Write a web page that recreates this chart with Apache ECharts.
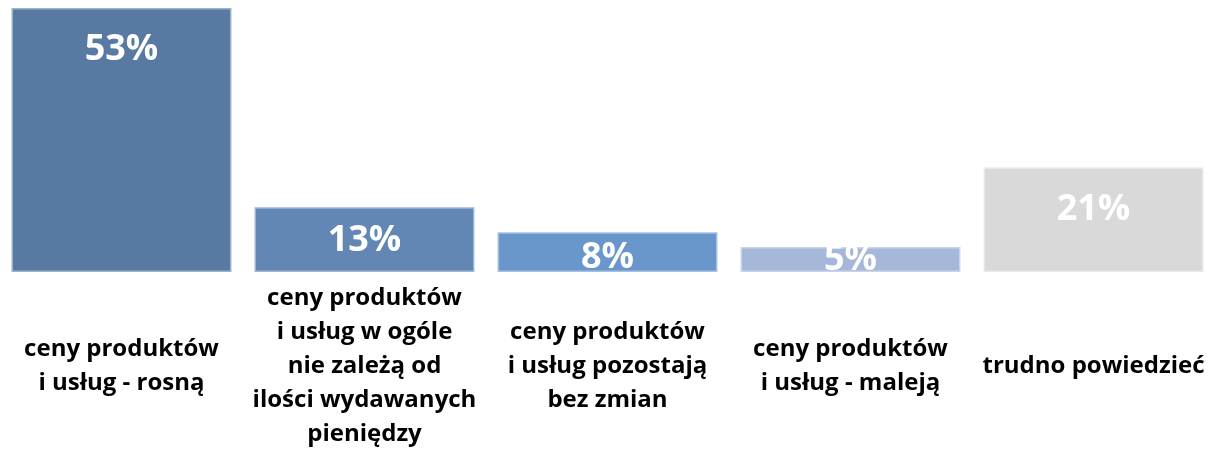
<!DOCTYPE html>
<html>
<head>
<meta charset="utf-8">
<script src="https://cdn.jsdelivr.net/npm/echarts@6/dist/echarts.min.js"></script>
<style>
  html, body { margin: 0; padding: 0; background: #fff; }
  #chart { width: 1221px; height: 452px; }
</style>
</head>
<body>
<div id="chart"></div>
<script>
const categories = [
  'ceny produktów\ni usług - rosną',
  'ceny produktów\ni usług w ogóle\nnie zależą od\nilości wydawanych\npieniędzy',
  'ceny produktów\ni usług pozostają\nbez zmian',
  'ceny produktów\ni usług - maleją',
  'trudno powiedzieć'
];
const values = [53, 13, 8, 5, 21];

// colours and label offsets, one per bar
const barColors = ['#587AA2', '#6287B4', '#6A97CB', '#A5B8D9', '#D9D9D9'];
const borderColors = ['#9BB0CB', '#9FB6D4', '#A6C0E2', '#C9D5EA', '#E8E8E8'];
const labelDistance = [24, 16, 8, -5, 24];

const chart = echarts.init(document.getElementById('chart'));

const seriesData = values.map((v, i) => ({
  value: v,
  itemStyle: {
    color: barColors[i],
    borderColor: borderColors[i],
    borderWidth: 1.5
  },
  label: {
    distance: labelDistance[i]
  }
}));

chart.setOption({
  backgroundColor: '#fff',
  animation: false,
  grid: {
    left: 0,
    right: 6,
    top: 0,
    height: 272
  },
  xAxis: {
    type: 'category',
    data: categories,
    axisLine: { show: false },
    axisTick: { show: false },
    axisLabel: {
      interval: 0,
      margin: 94,
      verticalAlign: 'middle',
      color: '#000',
      fontFamily: 'Open Sans',
      fontWeight: 'bold',
      fontSize: 24,
      lineHeight: 34
    }
  },
  yAxis: {
    type: 'value',
    min: 0,
    max: 54.6,
    show: false,
    splitLine: { show: false }
  },
  series: [
    {
      type: 'bar',
      barCategoryGap: '9.5%',
      data: seriesData,
      label: {
        show: true,
        position: 'insideTop',
        formatter: '{c}%',
        color: '#fff',
        fontFamily: 'Open Sans',
        fontWeight: 'bold',
        fontSize: 36
      }
    }
  ]
});
</script>
</body>
</html>
